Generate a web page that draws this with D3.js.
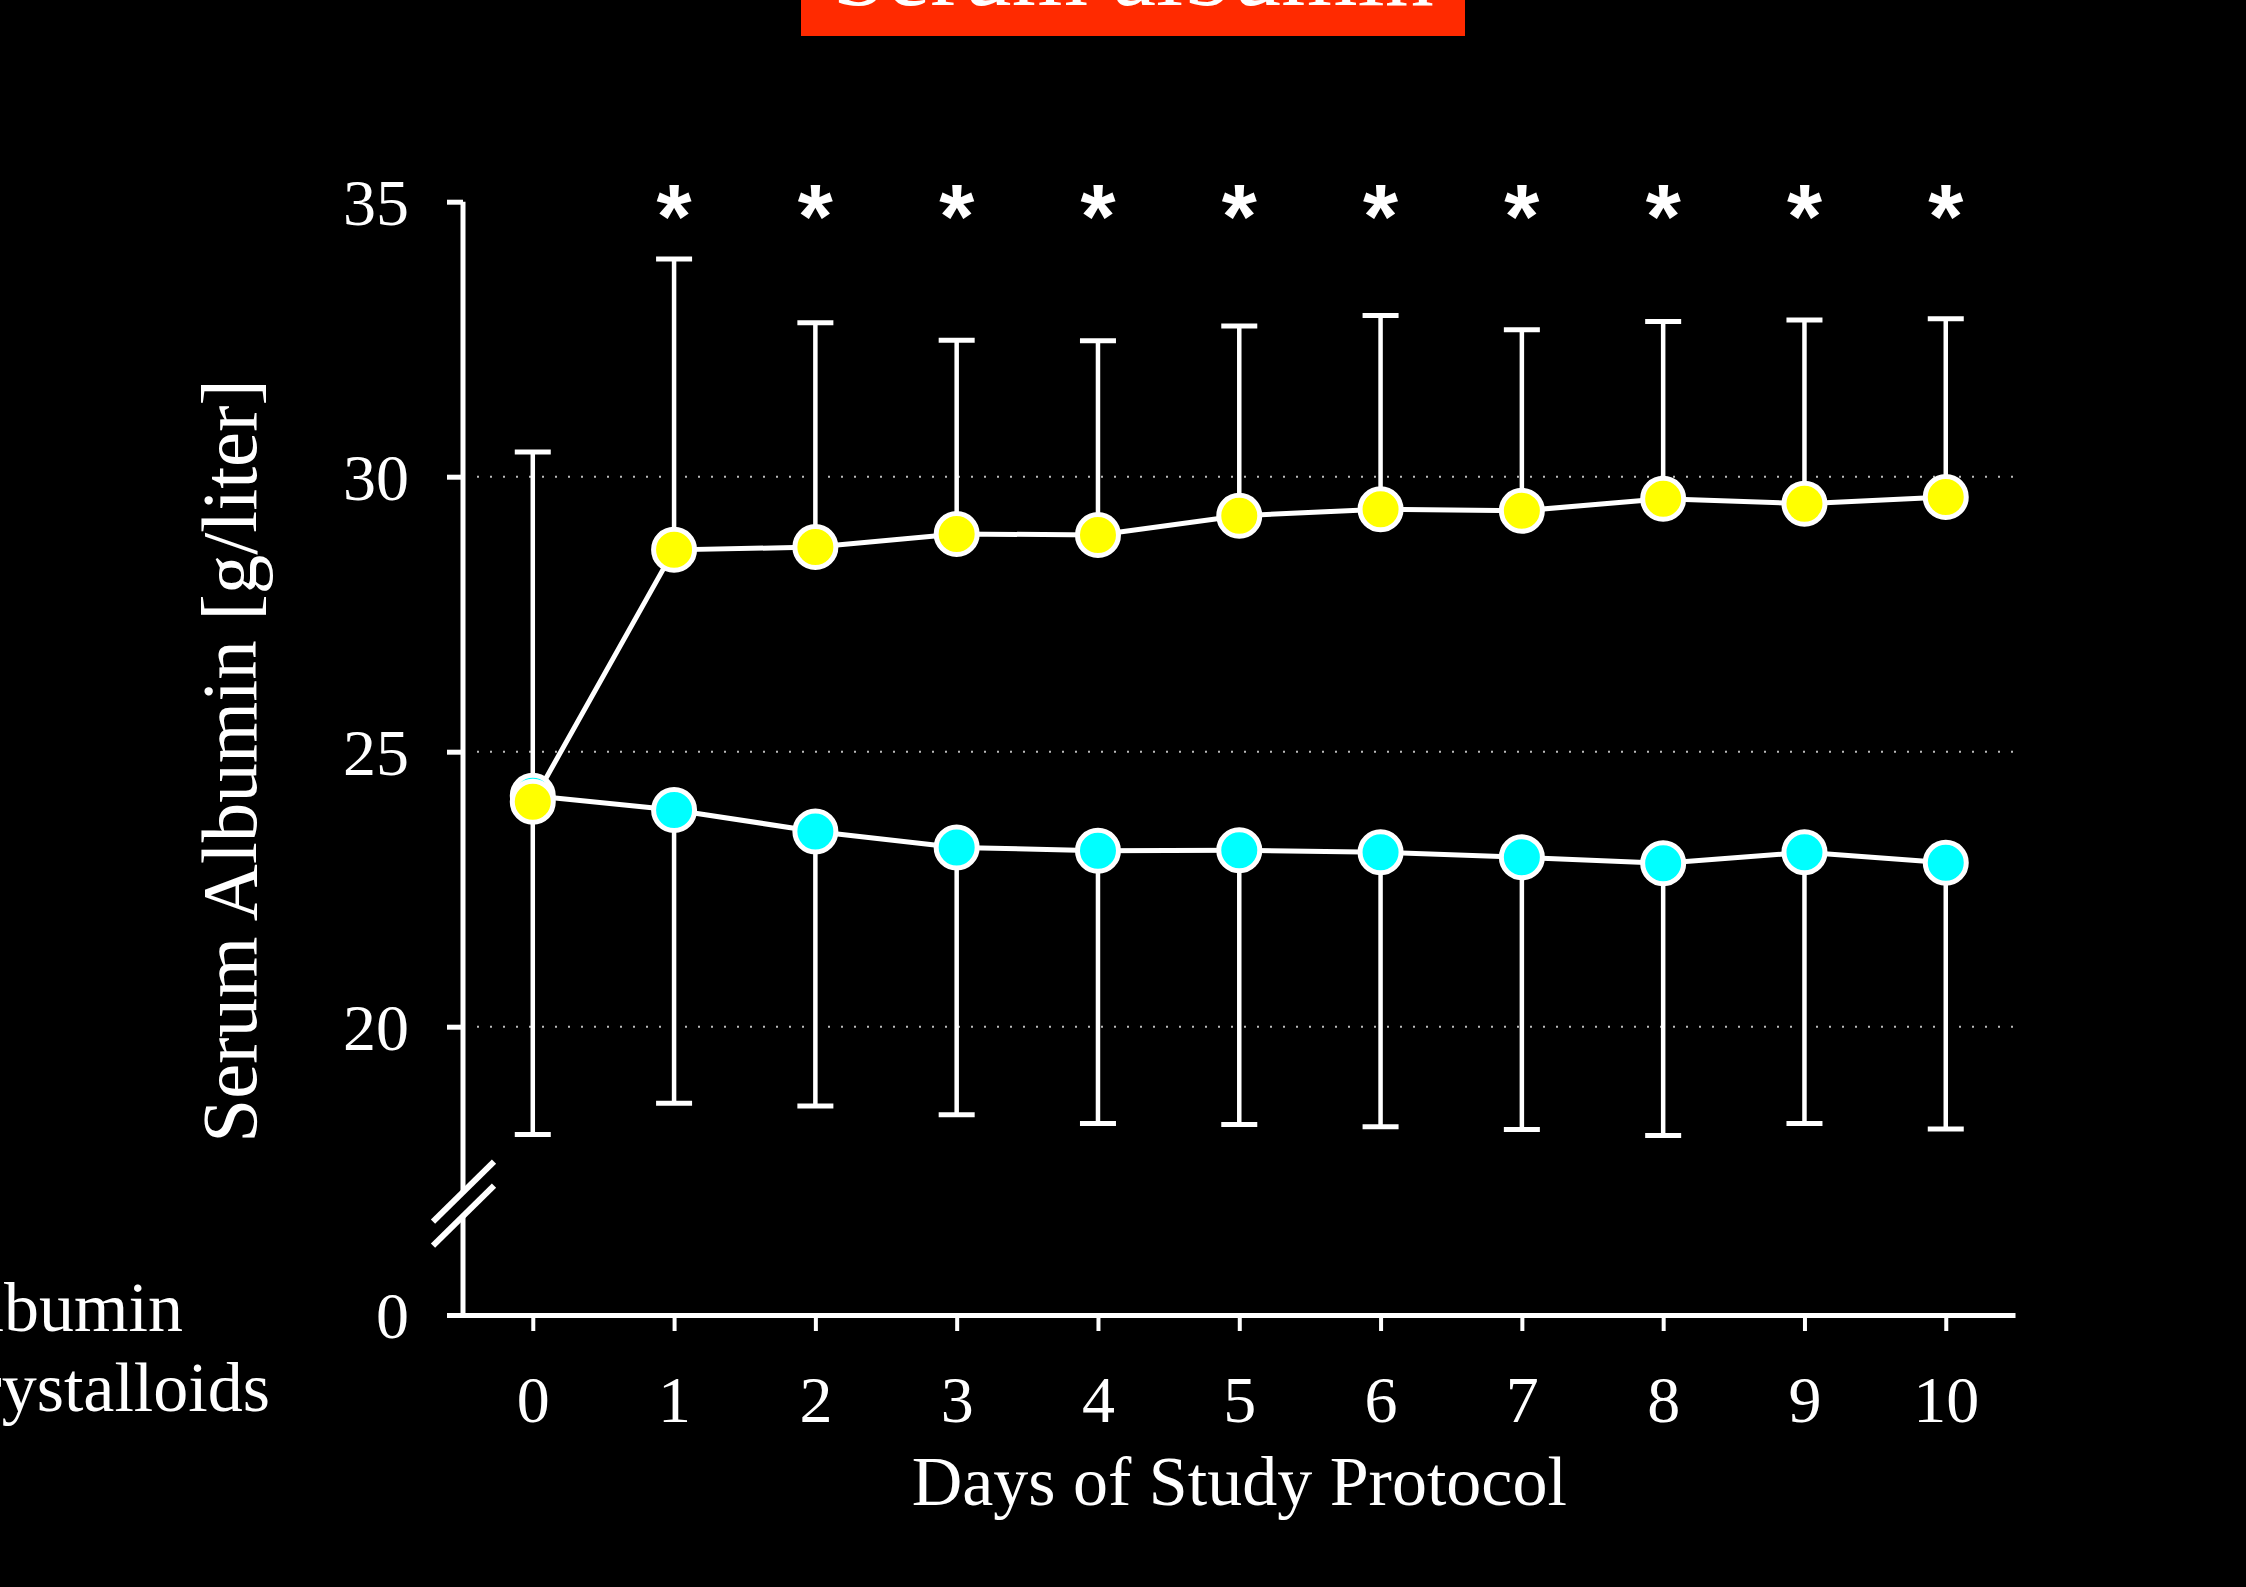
<!DOCTYPE html>
<html>
<head>
<meta charset="utf-8">
<script src="https://cdn.jsdelivr.net/npm/d3@7"></script>
<style>
  html, body { margin: 0; padding: 0; background: #000; overflow: hidden; }
  svg { display: block; }
</style>
</head>
<body>
<div id="chartDiv"></div>
<script>
// days on the x axis
var days = [0, 1, 2, 3, 4, 5, 6, 7, 8, 9, 10];

// albumin group (yellow), mean and upper error bar end
var albuminMean = [24.09, 28.67, 28.72, 28.96, 28.94, 29.29, 29.41, 29.38, 29.60, 29.51, 29.63];
var albuminUpper = [30.45, 33.96, 32.80, 32.48, 32.47, 32.74, 32.93, 32.67, 32.82, 32.85, 32.87];

// crystalloid group (cyan), mean and lower error bar end
var crystMean = [24.20, 23.94, 23.55, 23.26, 23.20, 23.21, 23.17, 23.08, 22.97, 23.17, 22.98];
var crystLower = [18.04, 18.61, 18.56, 18.40, 18.24, 18.22, 18.18, 18.13, 18.02, 18.24, 18.14];

// days marked significant
var sigDays = [1, 2, 3, 4, 5, 6, 7, 8, 9, 10];

var yTicks = [0, 20, 25, 30, 35];
var gridValues = [20, 25, 30];

var titleText = "Serum albumin";
var xAxisLabelHeader = "Days of Study Protocol";
var yAxisLabelHeader = "Serum Albumin [g/liter]";
var legendLabels = ["Albumin", "Crystalloids"];

;(function() {

	var width = 2246;
	var height = 1587;
	var serif = "'Liberation Serif', 'Times New Roman', serif";
	var sans = "'Liberation Sans', Arial, sans-serif";
	var lineW = 4.5;

	var chart = d3.select("#chartDiv").append("svg")
		.attr("width", width)
		.attr("height", height);

	chart.append("rect")
		.attr("width", width)
		.attr("height", height)
		.attr("fill", "#000");

	// scales (y is broken between 0 and 17)
	var xScale = d3.scaleLinear()
		.domain([-0.6, 10.49])
		.range([448, 2015]);

	var yScale = d3.scaleLinear()
		.domain([0, 17, 35])
		.range([1315, 1191.7, 201.7]);

	// title box, cut by the top edge
	chart.append("rect")
		.attr("x", 801)
		.attr("y", -80)
		.attr("width", 664)
		.attr("height", 116)
		.attr("fill", "#ff2a00");

	chart.append("text")
		.attr("x", 1133)
		.attr("y", 5)
		.attr("text-anchor", "middle")
		.style("font-family", serif)
		.style("font-size", "98px")
		.attr("fill", "#fff")
		.text(titleText);

	// dotted grid
	chart.append("g").selectAll("line")
		.data(gridValues)
		.enter().append("line")
			.attr("x1", 477)
			.attr("x2", 2020)
			.attr("y1", function(d) { return yScale(d); })
			.attr("y2", function(d) { return yScale(d); })
			.attr("stroke", "#bbb")
			.attr("stroke-width", 2)
			.attr("stroke-dasharray", "2,11");

	// x axis
	var xAxis = d3.axisBottom(xScale)
		.tickValues(days)
		.tickSizeOuter(0)
		.tickSizeInner(16)
		.tickPadding(44)
		.tickFormat(d3.format("d"));

	var gx = chart.append("g")
		.attr("transform", "translate(0," + yScale(0) + ")")
		.call(xAxis);

	gx.select(".domain").attr("stroke", "#fff").attr("stroke-width", 5);
	gx.selectAll(".tick line").attr("stroke", "#fff").attr("stroke-width", 4);
	gx.selectAll(".tick text")
		.attr("fill", "#fff")
		.style("font-family", serif)
		.style("font-size", "66px");

	// y axis
	var yAxis = d3.axisLeft(yScale)
		.tickValues(yTicks)
		.tickSizeOuter(0)
		.tickSizeInner(16)
		.tickPadding(38);

	var gy = chart.append("g")
		.attr("transform", "translate(463,0)")
		.call(yAxis);

	gy.select(".domain").remove();
	gy.selectAll(".tick line").attr("stroke", "#fff").attr("stroke-width", 5);
	gy.selectAll(".tick text")
		.attr("fill", "#fff")
		.attr("dy", "0.34em")
		.style("font-family", serif)
		.style("font-size", "66px");

	// axis line with a gap and two slashes
	var breakTop = yScale(17);
	var breakBottom = breakTop + 24;

	gy.append("line")
		.attr("x1", 0).attr("x2", 0)
		.attr("y1", yScale(35)).attr("y2", breakTop)
		.attr("stroke", "#fff").attr("stroke-width", 5);

	gy.append("line")
		.attr("x1", 0).attr("x2", 0)
		.attr("y1", breakBottom).attr("y2", yScale(0))
		.attr("stroke", "#fff").attr("stroke-width", 5);

	gy.selectAll(".slash")
		.data([breakTop, breakBottom])
		.enter().append("line")
			.attr("class", "slash")
			.attr("x1", -30).attr("x2", 31)
			.attr("y1", function(d) { return d + 30; })
			.attr("y2", function(d) { return d - 30; })
			.attr("stroke", "#fff")
			.attr("stroke-width", 6);

	// axis labels
	chart.append("text")
		.attr("x", xScale(5))
		.attr("y", 1505)
		.attr("text-anchor", "middle")
		.attr("fill", "#fff")
		.style("font-family", serif)
		.style("font-size", "70px")
		.text(xAxisLabelHeader);

	chart.append("text")
		.attr("text-anchor", "middle")
		.attr("transform", "translate(256," + 761 + ") rotate(-90)")
		.attr("fill", "#fff")
		.style("font-family", serif)
		.style("font-size", "79px")
		.text(yAxisLabelHeader);

	// legend labels, partly off the left edge
	chart.selectAll(".legend")
		.data(legendLabels)
		.enter().append("text")
			.attr("class", "legend")
			.attr("x", function(d, i) { return i == 0 ? 183 : 270; })
			.attr("y", function(d, i) { return 1331 + i * 80; })
			.attr("text-anchor", "end")
			.attr("fill", "#fff")
			.style("font-family", serif)
			.style("font-size", "70px")
			.text(function(d) { return d; });

	var plot = chart.append("g");
	var capW = 36;

	function errorBars(means, ends, cls) {
		var bars = plot.selectAll("." + cls)
			.data(days)
			.enter().append("g")
				.attr("class", cls);

		bars.append("line")
			.attr("x1", function(d) { return xScale(d); })
			.attr("x2", function(d) { return xScale(d); })
			.attr("y1", function(d, i) { return yScale(means[i]); })
			.attr("y2", function(d, i) { return yScale(ends[i]); })
			.attr("stroke", "#fff")
			.attr("stroke-width", lineW);

		bars.append("line")
			.attr("x1", function(d) { return xScale(d) - capW / 2; })
			.attr("x2", function(d) { return xScale(d) + capW / 2; })
			.attr("y1", function(d, i) { return yScale(ends[i]); })
			.attr("y2", function(d, i) { return yScale(ends[i]); })
			.attr("stroke", "#fff")
			.attr("stroke-width", 5);
	}

	errorBars(crystMean, crystLower, "err-cryst");
	errorBars(albuminMean, albuminUpper, "err-alb");

	var line = d3.line()
		.x(function(d, i) { return xScale(days[i]); })
		.y(function(d) { return yScale(d); });

	[crystMean, albuminMean].forEach(function(series) {
		plot.append("path")
			.datum(series)
			.attr("d", line)
			.attr("fill", "none")
			.attr("stroke", "#fff")
			.attr("stroke-width", 5);
	});

	function drawDots(series, color, cls) {
		plot.selectAll("." + cls)
			.data(series)
			.enter().append("circle")
				.attr("class", cls)
				.attr("cx", function(d, i) { return xScale(days[i]); })
				.attr("cy", function(d) { return yScale(d); })
				.attr("r", 20.5)
				.attr("fill", color)
				.attr("stroke", "#fff")
				.attr("stroke-width", 5);
	}

	drawDots(crystMean, "#00ffff", "dot-cryst");
	drawDots(albuminMean, "#ffff00", "dot-alb");

	// significance stars
	plot.selectAll(".star")
		.data(sigDays)
		.enter().append("text")
			.attr("class", "star")
			.attr("x", function(d) { return xScale(d); })
			.attr("y", yScale(35) + 46)
			.attr("text-anchor", "middle")
			.attr("fill", "#fff")
			.style("font-family", sans)
			.style("font-weight", "bold")
			.style("font-size", "90px")
			.text("*");

})();
</script>
</body>
</html>
